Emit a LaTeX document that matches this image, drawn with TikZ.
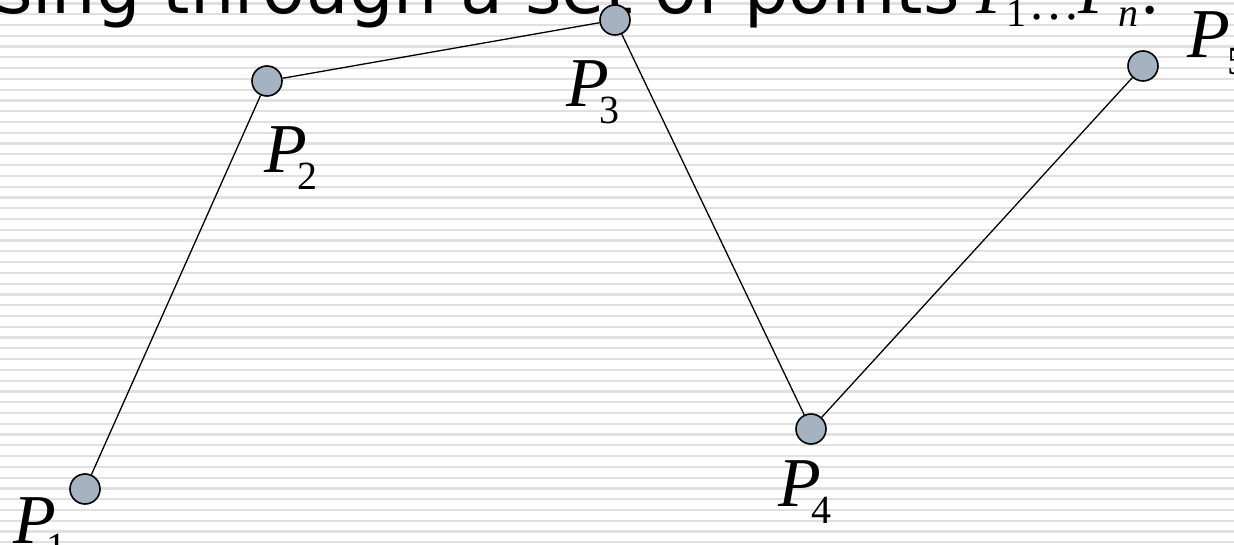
\documentclass[tikz,border=0pt]{standalone}
\usepackage{fontspec}
\newfontfamily\titlefont{DejaVu Sans}
\newfontfamily\timesfont{Liberation Serif}
\definecolor{ptfill}{RGB}{165,178,193}
\definecolor{stripecol}{RGB}{224,224,224}
\tikzset{
  ptnode/.style={circle, draw=black, line width=1.6pt, fill=ptfill, minimum size=30pt, inner sep=0pt},
  lbl/.style={anchor=base west, inner sep=0pt, outer sep=0pt},
  conn/.style={line width=1.3pt, black},
  stripe/.style={line width=2.2pt, draw=stripecol}
}
\newcommand{\Plab}[2][-9pt]{{\timesfont\fontsize{70}{70}\selectfont\itshape P}\kern#1\raisebox{-17pt}{\timesfont\fontsize{40}{40}\selectfont #2}}
\begin{document}
\begin{tikzpicture}[x=1pt,y=-1pt]
\useasboundingbox (0,0) rectangle (1234,545);
\fill[white] (0,0) rectangle (1234,545);
\foreach \k in {0,...,50} \draw[stripe] (0,3.45+10.777*\k) -- (1234,3.45+10.777*\k);
% title (cut at top)
\node[lbl] (title) at (-4,14) {\titlefont\fontsize{70}{70}\selectfont sing through a set of points};
\node[lbl] (titlemath) at (976,14) {\timesfont\fontsize{70}{70}\selectfont\itshape P\kern-12pt\raisebox{-13pt}{\fontsize{40}{40}\selectfont\upshape 1}\kern2pt\raisebox{-6pt}{\fontsize{52}{52}\selectfont\upshape\ldots}\kern-2pt P\kern-3pt\raisebox{-13pt}{\fontsize{40}{40}\selectfont n}\upshape\kern2pt:};
% points
\node[ptnode] (p1) at (85,489) {};
\node[ptnode] (p2) at (267,81) {};
\node[ptnode] (p3) at (615,20) {};
\node[ptnode] (p4) at (811,429) {};
\node[ptnode] (p5) at (1143,66) {};
\draw[conn] (p1) -- (p2);
\draw[conn] (p2) -- (p3);
\draw[conn] (p3) -- (p4);
\draw[conn] (p4) -- (p5);
% labels
\node[lbl] (l1) at (13,543) {\Plab{1}};
\node[lbl] (l2) at (264,173) {\Plab{2}};
\node[lbl] (l3) at (566,107) {\Plab{3}};
\node[lbl] (l4) at (778,506) {\Plab{4}};
\node[lbl] (l5) at (1187,58) {\Plab[-2pt]{5}};
\end{tikzpicture}
\end{document}
